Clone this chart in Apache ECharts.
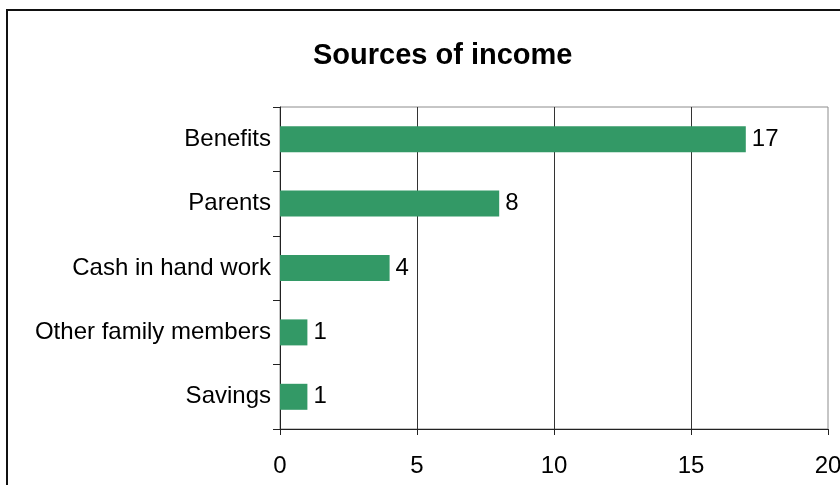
<!DOCTYPE html>
<html>
<head>
<meta charset="utf-8">
<script src="https://cdn.jsdelivr.net/npm/echarts@6/dist/echarts.min.js"></script>
<style>html,body{margin:0;padding:0;background:#fff;overflow:hidden;}#c{width:840px;height:485px;}</style>
</head>
<body>
<div id="c"></div>
<script>
var categories = ["Benefits", "Parents", "Cash in hand work", "Other family members", "Savings"];
var values = [17, 8, 4, 1, 1];
var xTicks = { min: 0, max: 20, interval: 5 };
var titleText = "Sources of income";

var FONT = "Arial, 'Liberation Sans', sans-serif";
var chart = echarts.init(document.getElementById('c'), null, { renderer: 'canvas' });
chart.setOption({
  animation: false,
  backgroundColor: '#fff',
  title: {
    text: titleText,
    left: 313,
    top: 41,
    padding: 0,
    textStyle: { fontFamily: FONT, fontSize: 29, fontWeight: 'bold', color: '#000' }
  },
  graphic: [{
    type: 'rect',
    shape: { x: 7, y: 10, width: 900, height: 600 },
    style: { fill: 'none', stroke: '#111', lineWidth: 2 },
    silent: true
  }],
  grid: {
    left: 280, right: 12, top: 107, bottom: 56,
    show: true, borderColor: '#8c8c8c', borderWidth: 1, backgroundColor: 'transparent',
    containLabel: false,
    outerBoundsMode: 'none'
  },
  xAxis: {
    type: 'value',
    min: xTicks.min, max: xTicks.max, interval: xTicks.interval,
    axisLine: { show: true, onZero: false, lineStyle: { color: '#222', width: 1 } },
    axisTick: { show: true, length: 6, lineStyle: { color: '#222' } },
    axisLabel: { margin: 25, fontFamily: FONT, fontSize: 24, color: '#000', hideOverlap: false },
    splitLine: { show: true, showMinLine: false, showMaxLine: false, lineStyle: { color: '#333', width: 1 } }
  },
  yAxis: {
    type: 'category',
    data: categories,
    inverse: true,
    axisLine: { show: true, lineStyle: { color: '#222', width: 1 } },
    axisTick: { show: true, length: 7, lineStyle: { color: '#222' } },
    axisLabel: { margin: 9, fontFamily: FONT, fontSize: 24, color: '#000' },
    splitLine: { show: false }
  },
  series: [{
    type: 'bar',
    data: values,
    barWidth: 26,
    itemStyle: { color: '#339966' },
    label: {
      show: true, position: 'right', distance: 6,
      fontFamily: FONT, fontSize: 24, color: '#000'
    }
  }]
});
</script>
</body>
</html>
